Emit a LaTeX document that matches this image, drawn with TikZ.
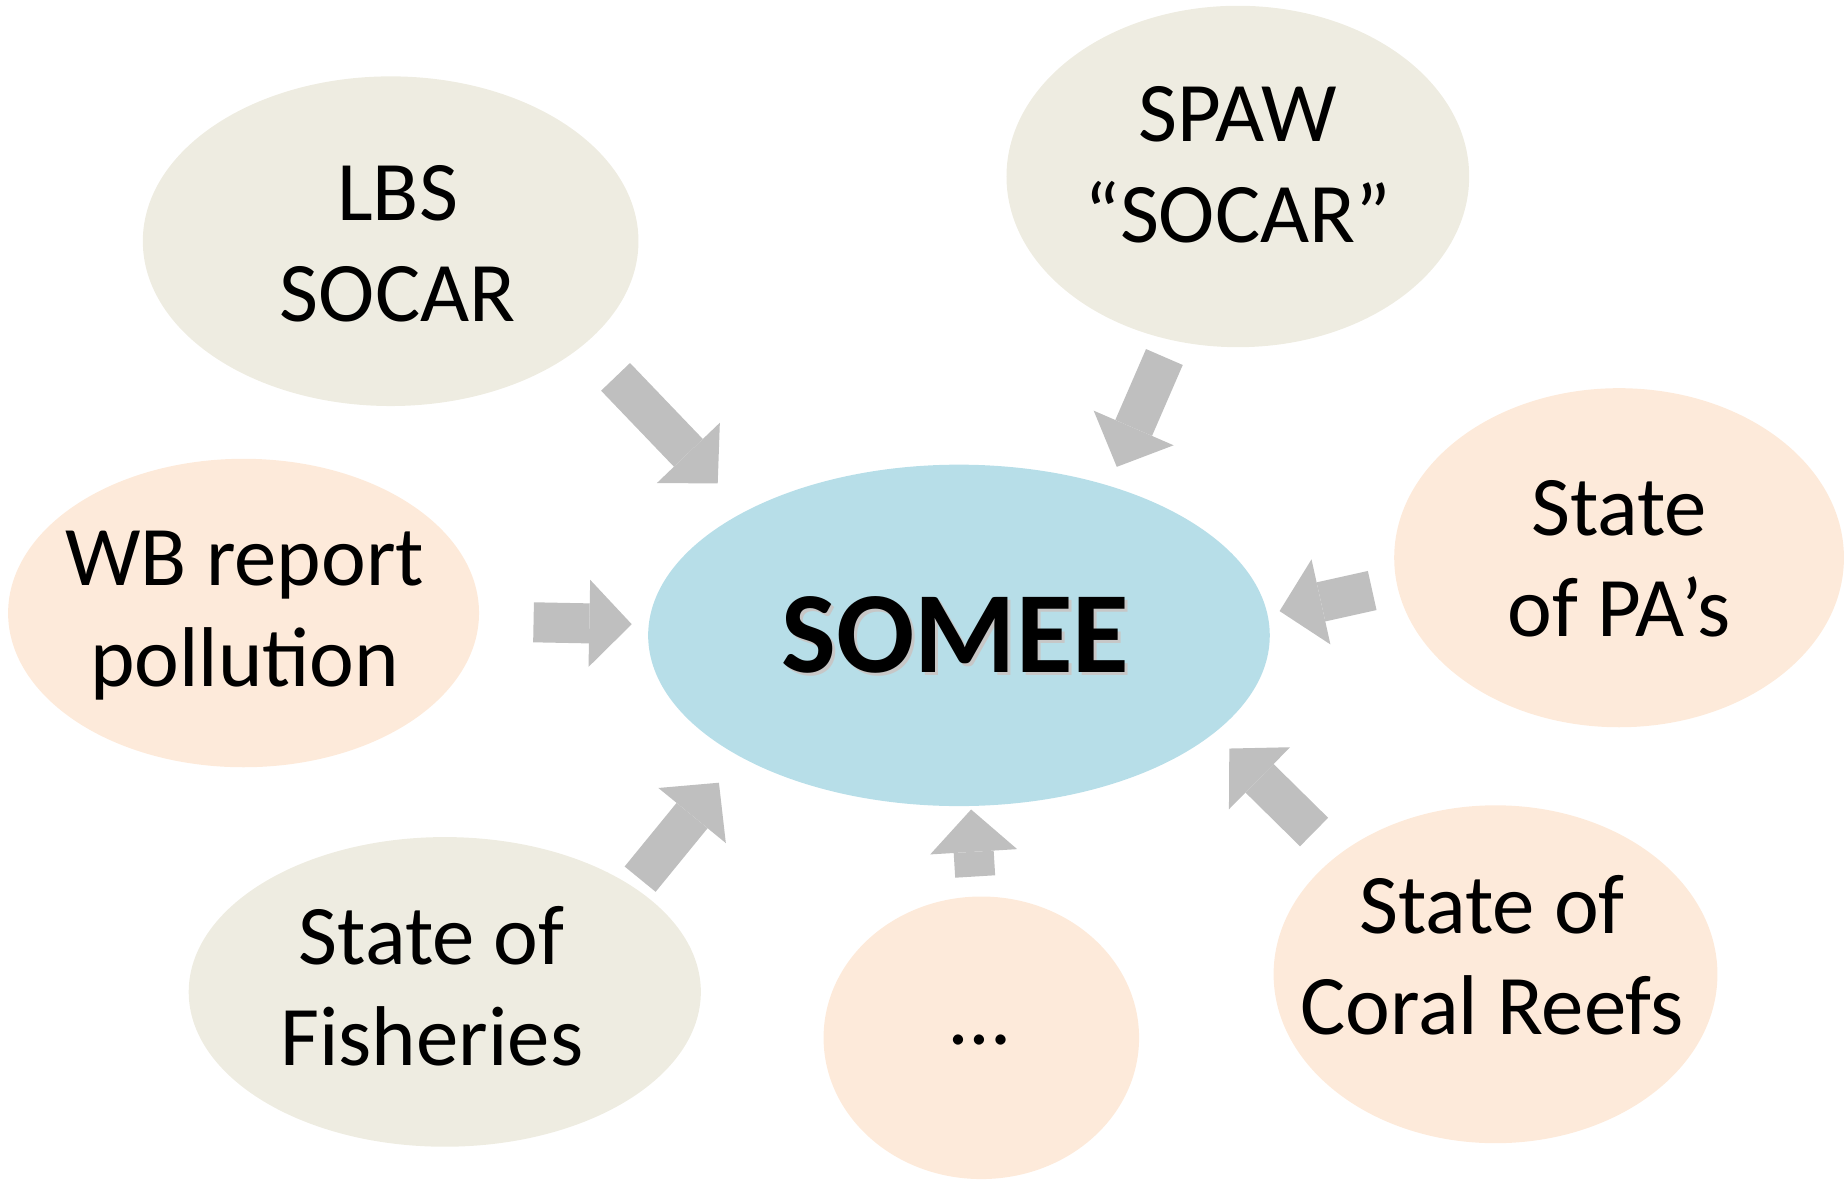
\documentclass[tikz,border=0pt]{standalone}
\usepackage{fontspec}
\setmainfont{Carlito}
\usetikzlibrary{shapes.geometric, arrows.meta}

\definecolor{tan}{HTML}{EEECE1}
\definecolor{peach}{HTML}{FDEADA}
\definecolor{sky}{HTML}{B7DEE8}
\definecolor{feedgray}{HTML}{BFBFBF}

\begin{document}
\begin{tikzpicture}[x=0.01cm,y=-0.01cm,
  bubble/.style={ellipse,inner sep=0pt,outer sep=0pt},
  words/.style={align=center,font=\fontsize{20.5}{24.4}\selectfont},
  feed/.style={color=feedgray,line width=0.34cm,
    -{Triangle[length=0.36cm,width=0.74cm,line width=0pt]}}]
  \useasboundingbox (0,0) rectangle (1568,1004);

  \node[bubble,fill=sky,minimum width=5.28cm,minimum height=2.90cm] (somee) at (815,540) {};
  \node[bubble,fill=tan,minimum width=4.21cm,minimum height=2.80cm] (lbs) at (332,205) {};
  \node[bubble,fill=tan,minimum width=3.93cm,minimum height=2.90cm] (spaw) at (1052,150) {};
  \node[bubble,fill=peach,minimum width=4.00cm,minimum height=2.62cm] (wb) at (207,521) {};
  \node[bubble,fill=peach,minimum width=3.82cm,minimum height=2.88cm] (pa) at (1376,474) {};
  \node[bubble,fill=tan,minimum width=4.35cm,minimum height=2.63cm] (fish) at (378,843) {};
  \node[bubble,fill=peach,minimum width=2.68cm,minimum height=2.40cm] (dots) at (834,882) {};
  \node[bubble,fill=peach,minimum width=3.77cm,minimum height=2.87cm] (coral) at (1271,828) {};

  \node[words] (lbs_t) at (338,207) {LBS\\SOCAR};
  \node[words] (spaw_t) at (1052,140) {SPAW\\“SOCAR”};
  \node[words] (wb_t) at (208,523) {WB report\\pollution};
  \node[words] (pa_t) at (1376,475) {State\\of PA’s};
  \node[words] (fish_t) at (367,838) {State of\\Fisheries};
  \node[words] (dots_t) at (833,884) {…};
  \node[words] (coral_t) at (1268,812) {State of\\Coral Reefs};
  \node[font=\fontsize{28}{34}\bfseries,text=black!22] (somee_s) at (814.5,542.5) {SOMEE};
  \node[font=\fontsize{28}{34}\bfseries] (somee_t) at (812,540) {SOMEE};

  \draw[feed,shorten <=0.385cm,shorten >=0.332cm] (lbs.-28.8) -- (somee.150.5);
  \draw[feed,shorten <=0.157cm,shorten >=0.175cm] (spaw.-112.5) -- (somee.45.9);
  \draw[feed,shorten <=0.466cm,shorten >=0.145cm] (wb.-2.9) -- (somee.178);
  \draw[feed,shorten <=0.217cm,shorten >=0.107cm] (pa.-173.6) -- (somee.4.3);
  \draw[feed,shorten <=0.089cm,shorten >=0.286cm] (fish.29.6) -- (somee.-151.5);
  \draw[feed,shorten <=0.171cm,shorten >=0.03cm] (dots.92.4) -- (somee.-86.1);
  \draw[feed,shorten <=0.283cm,shorten >=0.186cm] (coral.143.2) -- (somee.-21.8);
\end{tikzpicture}
\end{document}
